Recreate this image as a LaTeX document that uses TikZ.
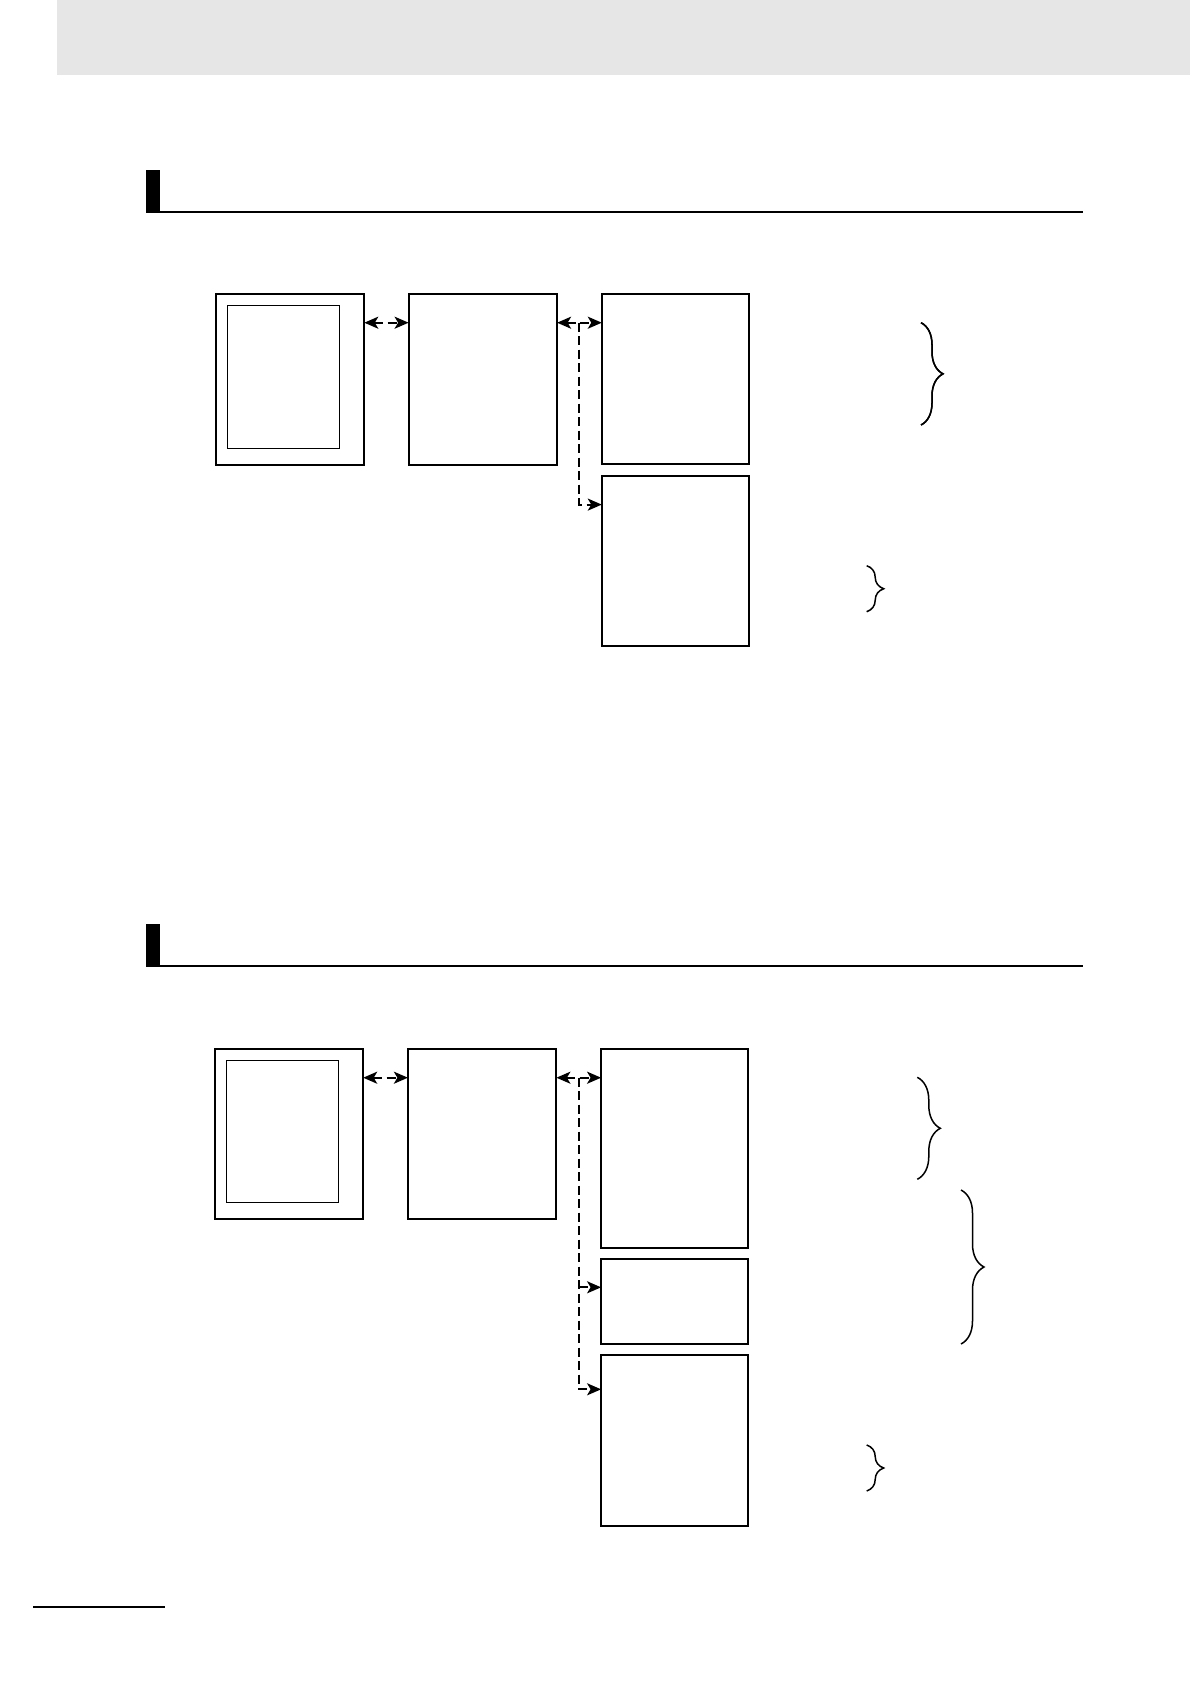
\documentclass[tikz,border=0pt]{standalone}
\usetikzlibrary{arrows.meta,calc,decorations.pathreplacing}
\definecolor{bandgray}{HTML}{E6E6E6}
\begin{document}
\begin{tikzpicture}[x=1pt,y=-1pt,
  box/.style={draw=black,line width=1.9pt,inner sep=0pt,outer sep=0pt,anchor=north west},
  innerbox/.style={draw=black,line width=1.3pt,inner sep=0pt,outer sep=0pt,anchor=north west},
  conn/.style={line width=2pt,dash pattern=on 9pt off 4.5pt,-{Stealth[length=14pt,width=12pt,inset=3.5pt]}},
  dbl/.style={line width=2pt,dash pattern=on 9pt off 4.5pt,{Stealth[length=14pt,width=12pt,inset=3.5pt]}-{Stealth[length=14pt,width=12pt,inset=3.5pt]}},
  bracestyle/.style={line width=1.5pt,decorate,decoration={brace,amplitude=#1}},
  rule/.style={line width=2pt},
]
\useasboundingbox (0,0) rectangle (1190,1684);
\fill[white] (0,0) rectangle (1190,1684);
% header band
\fill[bandgray] (57,0) rectangle (1190,75);
% section 1 heading
\fill[black] (146,170) rectangle (160,212.7);
\draw[rule] (146,211.7) -- (1082.7,211.7);
% section 2 heading
\fill[black] (146,924) rectangle (160,966.7);
\draw[rule] (146,965.7) -- (1082.7,965.7);
% footer rule
\draw[line width=2.3pt] (33,1606.9) -- (165,1606.9);

% ---------- Section 1 ----------
\node[box, minimum width=148.6pt, minimum height=170.7pt] (A1) at (215.7,294.3) {};
\node[innerbox, minimum width=112.1pt, minimum height=142.6pt] (A1in) at (227.5,305.7) {};
\node[box, minimum width=148.5pt, minimum height=170.7pt] (B1) at (408.6,294.3) {};
\node[box, minimum width=147.2pt, minimum height=170pt] (C1) at (601.8,294.3) {};
\node[box, minimum width=147.2pt, minimum height=169.7pt] (D1) at (601.8,476.3) {};

\draw[dbl] ([yshift=-28.4pt]A1.north east) -- ([yshift=-28.4pt]B1.north west);
\draw[dbl] ([yshift=-28.4pt]B1.north east) -- ([yshift=-28.4pt]C1.north west);
\coordinate (j1) at ($(B1.north east)!0.5!(C1.north west)+(0,28.4)$);
\coordinate (d1a) at ([yshift=-28.3pt]D1.north west);
\draw[conn] (j1) |- (d1a);

\draw[bracestyle=22pt] (921,322.7) -- (921,425);
\draw[bracestyle=17pt] (866.7,565.7) -- (866.7,611.7);

% ---------- Section 2 ----------
\node[box, minimum width=148.6pt, minimum height=170.3pt] (A2) at (214.6,1048.7) {};
\node[innerbox, minimum width=111.8pt, minimum height=142pt] (A2in) at (226.4,1060.3) {};
\node[box, minimum width=148.5pt, minimum height=170.3pt] (B2) at (407.9,1048.7) {};
\node[box, minimum width=147.2pt, minimum height=199pt] (C2) at (601.1,1048.7) {};
\node[box, minimum width=147.2pt, minimum height=85pt] (D2) at (601.1,1259) {};
\node[box, minimum width=147.2pt, minimum height=170.7pt] (E2) at (601.1,1355) {};

\draw[dbl] ([yshift=-29pt]A2.north east) -- ([yshift=-29pt]B2.north west);
\draw[dbl] ([yshift=-29pt]B2.north east) -- ([yshift=-29pt]C2.north west);
\coordinate (j2) at ($(B2.north east)!0.5!(C2.north west)+(0,29)$);
\coordinate (d2a) at ([yshift=-28.3pt]D2.north west);
\coordinate (e2a) at ([yshift=-34.3pt]E2.north west);
\coordinate (k2) at (j2 |- d2a);
\draw[conn] (j2) |- (e2a);
\draw[conn] (k2) -- (d2a);

\draw[bracestyle=22pt] (921,322.7) -- (921,425);
\draw[bracestyle=23pt] (917.3,1077.3) -- (917.3,1179.3);
\draw[bracestyle=23pt] (961,1190) -- (961,1344);
\draw[bracestyle=17pt] (866.7,1445) -- (866.7,1491);
\end{tikzpicture}
\end{document}
